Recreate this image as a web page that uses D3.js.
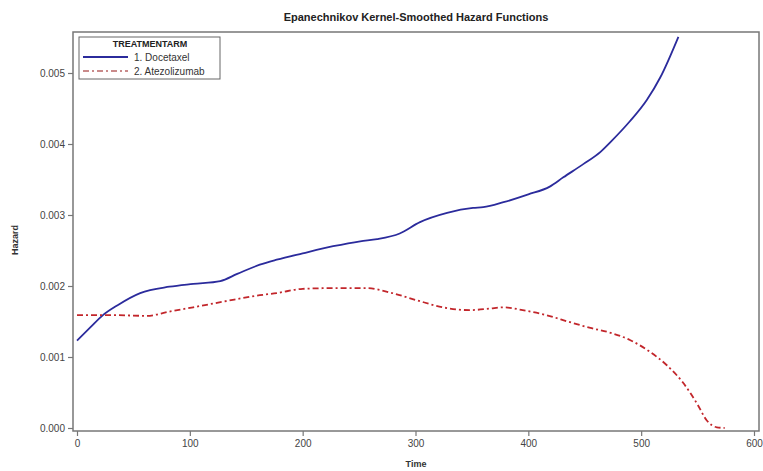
<!DOCTYPE html>
<html><head><meta charset="utf-8">
<script src="https://cdn.jsdelivr.net/npm/d3@7"></script>
<style>body{margin:0;background:#fff;}svg{display:block;font-family:"Liberation Sans",Arial,sans-serif;}</style>
</head><body>
<svg id="chart" width="763" height="471"></svg>
<script>
const docetaxelTime = [0, 12, 23, 36, 56, 82, 103, 127, 142, 162, 177, 200, 227, 251, 266, 286, 304, 328, 351, 360, 378, 400, 419, 431, 449, 464, 473, 490, 505, 517, 533];
const docetaxelHazard = [0.00123, 0.00142, 0.00159, 0.00173, 0.0019, 0.00199, 0.00203, 0.00207, 0.00217, 0.0023, 0.00237, 0.00246, 0.00256, 0.00263, 0.00266, 0.00274, 0.0029, 0.00303, 0.0031, 0.00311, 0.00318, 0.00329, 0.0034, 0.00353, 0.00372, 0.00389, 0.00403, 0.00432, 0.00462, 0.00494, 0.00551];
const atezoTime = [0, 30, 62, 82, 103, 133, 162, 177, 200, 227, 257, 277, 301, 324, 348, 365, 378, 395, 416, 437, 455, 473, 490, 508, 523, 537, 550, 558, 567, 574];
const atezoHazard = [0.00159, 0.00159, 0.00158, 0.00164, 0.0017, 0.00179, 0.00187, 0.0019, 0.00196, 0.00197, 0.00197, 0.00191, 0.0018, 0.0017, 0.00166, 0.00168, 0.0017, 0.00166, 0.00159, 0.00149, 0.00141, 0.00134, 0.00124, 0.00107, 0.00088, 0.00064, 0.00033, 0.00011, 0.00001, 0];
const xTicks = [0, 100, 200, 300, 400, 500, 600];
const yTicks = [0, 0.001, 0.002, 0.003, 0.004, 0.005];
const seriesNames = ["1. Docetaxel", "2. Atezolizumab"];

const svg = d3.select("#chart");
const L = 73, R = 759, T = 32, B = 431;
const x = d3.scaleLinear().domain([0, 600]).range([77, 754]);
const y = d3.scaleLinear().domain([0, 0.005]).range([428, 73]);
const axisColor = "#777";

svg.append("rect").attr("x", L).attr("y", T).attr("width", R - L).attr("height", B - T)
  .attr("fill", "none").attr("stroke", axisColor).attr("stroke-width", 1.5);

const xAxis = svg.append("g").attr("transform", `translate(0,${B})`)
  .call(d3.axisBottom(x).tickValues(xTicks).tickSize(5).tickPadding(4).tickFormat(d3.format("d")));
const yAxis = svg.append("g").attr("transform", `translate(${L},0)`)
  .call(d3.axisLeft(y).tickValues(yTicks).tickSize(5).tickPadding(3).tickFormat(d3.format(".3f")));
[xAxis, yAxis].forEach(g => {
  g.select(".domain").remove();
  g.selectAll(".tick line").attr("stroke", axisColor).attr("stroke-width", 1.2);
  g.selectAll(".tick text").attr("fill", "#444").style("font-size", "10px").style("font-family", '"Liberation Sans",Arial,sans-serif');
});

const line = d3.line().curve(d3.curveMonotoneX);
const docPts = docetaxelTime.map((t, i) => [x(t), y(docetaxelHazard[i])]);
const atzPts = atezoTime.map((t, i) => [x(t), y(atezoHazard[i])]);
const blue = "#2b2b9c", red = "#c2262b";
svg.append("path").attr("d", line(docPts)).attr("fill", "none").attr("stroke", blue).attr("stroke-width", 1.8);
svg.append("path").attr("d", line(atzPts)).attr("fill", "none").attr("stroke", red).attr("stroke-width", 1.8)
  .attr("stroke-dasharray", "6,3,2,3");

svg.append("text").attr("x", (L + R) / 2).attr("y", 21).attr("text-anchor", "middle")
  .style("font-size", "11px").style("font-weight", "bold").attr("fill", "#222")
  .text("Epanechnikov Kernel-Smoothed Hazard Functions");
svg.append("text").attr("x", (L + R) / 2).attr("y", 467).attr("text-anchor", "middle")
  .style("font-size", "9px").style("font-weight", "bold").attr("fill", "#333").text("Time");
svg.append("text").attr("transform", "translate(18,240) rotate(-90)").attr("text-anchor", "middle")
  .style("font-size", "9px").style("font-weight", "bold").attr("fill", "#333").text("Hazard");

const lg = svg.append("g");
lg.append("rect").attr("x", 79).attr("y", 37).attr("width", 141).attr("height", 42)
  .attr("fill", "#fff").attr("stroke", "#666").attr("stroke-width", 1);
lg.append("text").attr("x", 150).attr("y", 47).attr("text-anchor", "middle")
  .style("font-size", "9px").style("font-weight", "bold").attr("fill", "#222").text("TREATMENTARM");
const styles = [{c: blue, d: null}, {c: "#c98a8a", d: "6,3,2,3"}];
seriesNames.forEach((n, i) => {
  const yy = 57 + i * 14;
  const l = lg.append("line").attr("x1", 83).attr("x2", 128).attr("y1", yy).attr("y2", yy)
    .attr("stroke", styles[i].c).attr("stroke-width", 2);
  if (styles[i].d) l.attr("stroke-dasharray", styles[i].d);
  lg.append("text").attr("x", 134).attr("y", yy + 4).style("font-size", "10px").attr("fill", "#333").text(n);
});
</script>
</body></html>
